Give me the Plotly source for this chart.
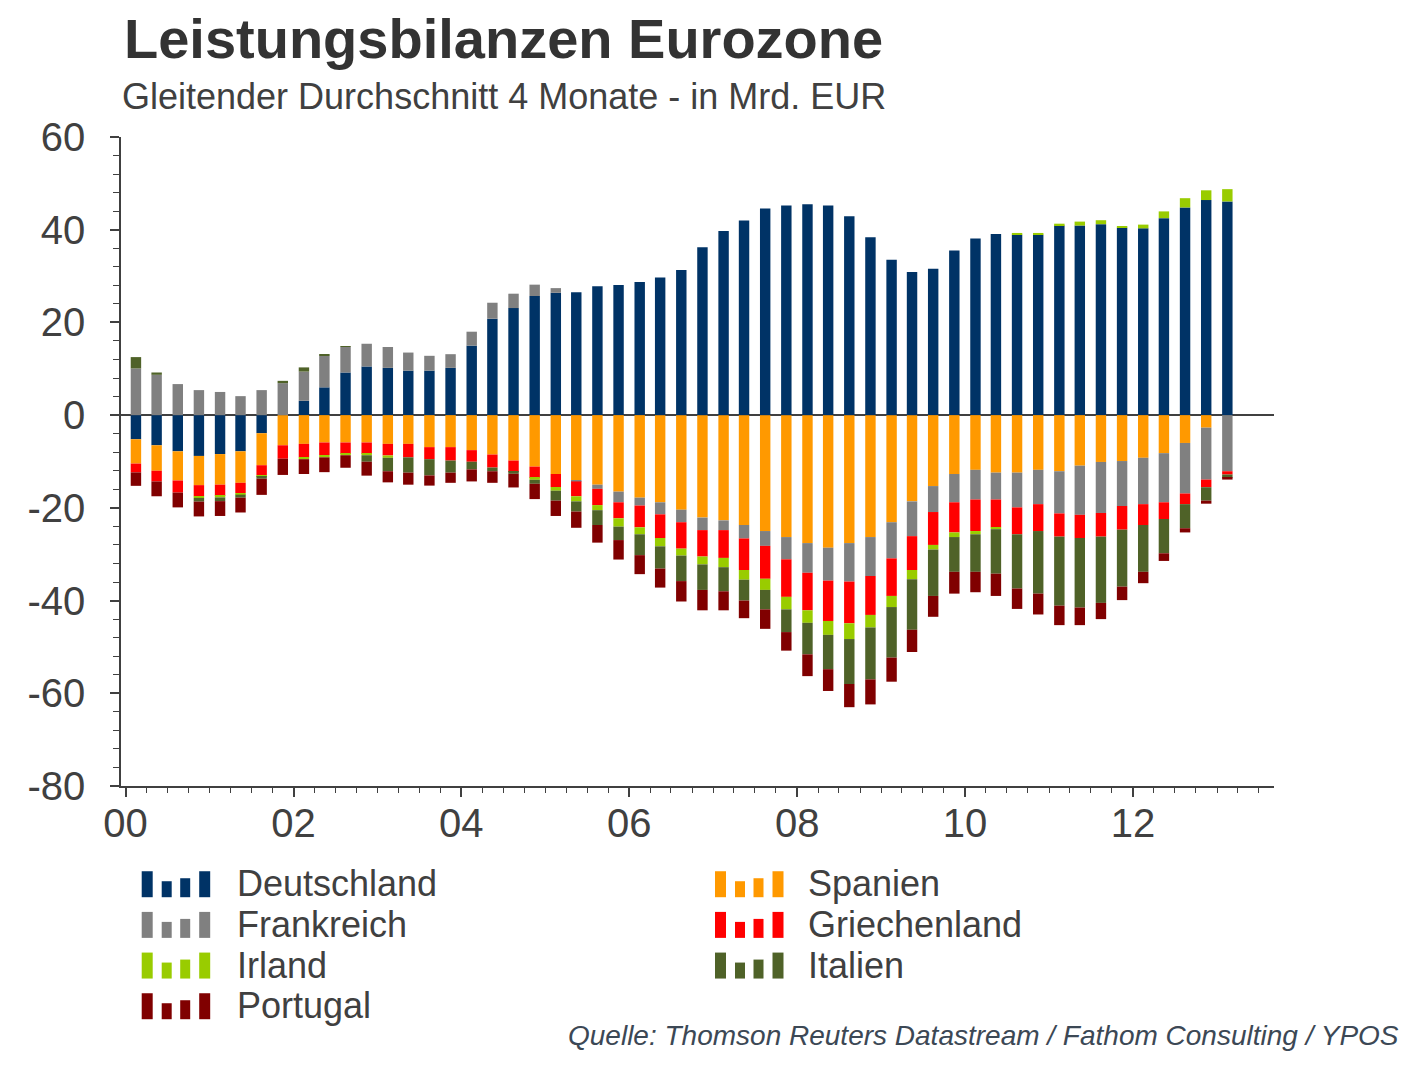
import plotly.graph_objects as go

# ---------------- data (Mrd. EUR, quarterly, 2000Q1 .. 2013Q1) ----------------
years = list(range(2000, 2014))
quarter_mid_months = [2, 5, 8, 11]
periods = [f"{y}-{m:02d}-15" for y in years for m in quarter_mid_months][:53]

deutschland = [-5.2, -6.5, -7.8, -8.8, -8.4, -7.8, -3.9, 0.0, 3.1, 6.0,
               9.2, 10.5, 10.2, 9.6, 9.6, 10.2, 15.0, 20.8, 23.1, 25.7,
               26.4, 26.5, 27.8, 28.1, 28.7, 29.7, 31.3, 36.2, 39.7, 42.0,
               44.6, 45.2, 45.5, 45.2, 42.9, 38.4, 33.5, 30.9, 31.6, 35.5,
               38.1, 39.1, 38.9, 38.9, 40.9, 40.9, 41.2, 40.4, 40.3, 42.5,
               44.8, 46.4, 46.1]
spanien = [-5.25, -5.5, -6.3, -6.3, -6.6, -6.8, -6.9, -6.5, -6.2, -5.9,
           -5.9, -5.9, -6.2, -6.2, -6.9, -6.9, -7.55, -8.5, -9.8, -11.1,
           -12.7, -14.0, -15.0, -16.5, -17.8, -18.8, -20.4, -22.1, -22.7, -23.7,
           -25.0, -26.3, -27.6, -28.6, -27.6, -26.3, -23.1, -18.6, -15.3, -12.7,
           -11.8, -12.4, -12.4, -11.8, -12.1, -10.9, -10.1, -9.9, -9.2, -8.2,
           -6.0, -2.7, 0.0]
frankreich = [10.07, 8.7, 6.7, 5.4, 5.0, 4.1, 5.4, 6.9, 6.3, 6.8,
              5.5, 4.9, 4.5, 3.9, 3.2, 2.95, 3.0, 3.45, 3.1, 2.45,
              1.0, -0.3, -0.9, -2.3, -1.7, -2.6, -2.7, -2.7, -2.1, -2.9,
              -3.2, -4.8, -6.4, -7.1, -8.3, -8.4, -7.8, -7.5, -5.6, -6.1,
              -6.4, -5.8, -7.5, -7.4, -9.1, -10.6, -11.0, -9.7, -10.0, -10.6,
              -10.9, -11.2, -12.1]
griechenland = [-1.9, -2.3, -2.6, -2.4, -2.4, -2.2, -2.2, -2.9, -2.9, -2.7,
                -2.45, -2.45, -2.5, -2.9, -2.6, -2.9, -2.5, -2.8, -2.45, -2.45,
                -2.8, -3.2, -3.5, -3.45, -4.7, -5.1, -5.7, -5.7, -6.0, -6.8,
                -7.1, -8.1, -8.1, -8.7, -9.0, -8.4, -8.1, -7.3, -7.1, -6.5,
                -6.8, -6.0, -5.8, -5.8, -5.0, -5.0, -5.1, -5.1, -4.5, -3.6,
                -2.3, -1.65, -0.7]
irland = [0.0, 0.0, 0.0, -0.35, -0.35, -0.35, -0.3, 0.0, -0.4, -0.5,
          -0.3, -0.3, -0.5, 0.0, 0.0, 0.0, 0.0, 0.0, 0.0, -0.4,
          -0.8, -1.1, -1.1, -1.8, -1.5, -1.8, -1.5, -1.7, -2.0, -2.1,
          -2.4, -2.7, -2.7, -3.0, -3.4, -2.7, -2.4, -2.0, -1.0, -1.0,
          -0.7, -0.4, 0.4, 0.4, 0.4, 0.85, 0.85, 0.35, 0.8, 1.45,
          2.0, 2.1, 2.65]
italien = [2.45, 0.5, 0.0, -0.8, -0.8, -0.65, -0.4, 0.5, 0.9, 0.2,
           0.2, -1.4, -2.9, -3.3, -3.5, -2.6, -1.65, -0.8, -0.4, -0.86,
           -2.15, -2.2, -3.2, -2.9, -4.5, -4.8, -5.5, -5.5, -5.2, -4.5,
           -4.2, -4.9, -6.8, -7.4, -9.7, -11.2, -10.9, -10.9, -10.0, -7.5,
           -8.1, -9.6, -11.7, -13.5, -14.9, -15.0, -14.3, -12.3, -10.1, -7.4,
           -5.2, -2.9, -0.7]
portugal = [-2.9, -3.2, -3.2, -3.2, -3.2, -3.2, -3.5, -3.5, -3.2, -3.2,
            -2.7, -3.0, -2.4, -2.6, -2.2, -2.2, -2.6, -2.5, -2.95, -3.3,
            -3.3, -3.5, -3.8, -4.2, -4.1, -4.1, -4.4, -4.4, -4.1, -3.8,
            -4.2, -4.0, -4.7, -4.7, -5.0, -5.4, -5.2, -4.8, -4.5, -4.7,
            -4.4, -4.8, -4.4, -4.5, -4.2, -3.8, -3.5, -2.9, -2.45, -1.65,
            -0.9, -0.65, -0.4]

series_names = ["Deutschland", "Spanien", "Frankreich", "Griechenland",
                "Irland", "Italien", "Portugal"]
series_values = [deutschland, spanien, frankreich, griechenland,
                 irland, italien, portugal]
series_colors = ["#003366", "#FF9900", "#808080", "#FF0000",
                 "#99CC00", "#4F6228", "#800000"]

y_tick_values = [-80, -60, -40, -20, 0, 20, 40, 60]
y_tick_labels = ["-80", "-60", "-40", "-20", "0", "20", "40", "60"]

title_text = "Leistungsbilanzen Eurozone"
subtitle_text = "Gleitender Durchschnitt 4 Monate - in Mrd. EUR"
source_text = "Quelle: Thomson Reuters Datastream / Fathom Consulting / YPOS"

# ---------------- geometry (page has an 8px body margin) ----------------
OFF = 8
W, H = 1412 - 2 * OFF, 1065 - 2 * OFF
L, R = 121 - OFF, 1274 - OFF
T, B = 136.5 - OFF, 786 - OFF
PW, PH = R - L, B - T


def px(xs):
    """screen x (px) -> paper fraction"""
    return (xs - OFF - L) / PW


def py(ys):
    """screen y (px) -> paper fraction"""
    return (B - (ys - OFF)) / PH


FONT = "Liberation Sans, Arial, sans-serif"
AXIS_COL = "#404040"

# ---------------- figure ----------------
fig = go.Figure()
for name, vals, col in zip(series_names, series_values, series_colors):
    fig.add_trace(go.Bar(x=periods, y=vals, name=name, showlegend=False,
                         marker=dict(color=col, line=dict(width=0))))

# custom legend: two columns, row-wise in series order, with small bar icons
annotations = []
shapes = []
icon_bars = [(0, 11, 26), (20, 30, 16), (38.5, 48.5, 19), (57.5, 68.5, 26)]
for i, (name, col) in enumerate(zip(series_names, series_colors)):
    c, r = i % 2, i // 2
    icon_x = 141.7 + c * 573.3
    base_y = 897.3 + r * 40.7
    for x0, x1, h in icon_bars:
        shapes.append(dict(type="rect", xref="paper", yref="paper",
                           x0=px(icon_x + x0), x1=px(icon_x + x1),
                           y0=py(base_y), y1=py(base_y - h),
                           fillcolor=col, line=dict(width=0), layer="above"))
    annotations.append(dict(text=name, xref="paper", yref="paper",
                            x=px(235 + c * 571), y=py(884 + r * 40.7),
                            xanchor="left", yanchor="middle", showarrow=False,
                            font=dict(size=36, color=AXIS_COL, family=FONT)))

annotations += [
    dict(text=f"<b>{title_text}</b>", xref="paper", yref="paper",
         x=px(122), y=py(38), xanchor="left", yanchor="middle", showarrow=False,
         font=dict(size=56, color="#333333", family=FONT)),
    dict(text=subtitle_text, xref="paper", yref="paper",
         x=px(120), y=py(96), xanchor="left", yanchor="middle", showarrow=False,
         font=dict(size=36, color=AXIS_COL, family=FONT)),
    dict(text=f"<i>{source_text}</i>", xref="paper", yref="paper",
         x=px(1401), y=py(1036), xanchor="right", yanchor="middle", showarrow=False,
         font=dict(size=28, color="#3C4855", family=FONT)),
]

fig.update_layout(
    width=W, height=H, autosize=False,
    margin=dict(l=L, r=W - R, t=T, b=H - B, pad=0, autoexpand=False),
    paper_bgcolor="white", plot_bgcolor="white",
    barmode="relative", bargap=0.49,
    font=dict(family=FONT, color=AXIS_COL),
    showlegend=False,
    annotations=annotations,
    shapes=shapes,
)

fig.update_yaxes(
    range=[-80, 60], tickvals=y_tick_values, ticktext=y_tick_labels,
    showgrid=False,
    showline=True, linecolor=AXIS_COL, linewidth=1.5,
    ticks="outside", ticklen=9, tickwidth=1.5, tickcolor=AXIS_COL,
    ticklabelstandoff=17,
    tickfont=dict(size=40, color=AXIS_COL, family=FONT),
    zeroline=True, zerolinecolor=AXIS_COL, zerolinewidth=1.5,
    minor=dict(dtick=4, tick0=0, ticks="outside", ticklen=6, tickwidth=1,
               tickcolor=AXIS_COL),
)
fig.update_xaxes(
    type="date", range=["1999-12-12", "2013-09-06"],
    tick0="2000-01-01", dtick="M24", tickformat="%y",
    showgrid=False, showline=True, linecolor=AXIS_COL, linewidth=1.5,
    ticks="outside", ticklen=9, tickwidth=1.5, tickcolor=AXIS_COL,
    ticklabelstandoff=-8,
    tickfont=dict(size=40, color=AXIS_COL, family=FONT),
    minor=dict(dtick="M3", ticks="outside", ticklen=5, tickwidth=1,
               tickcolor=AXIS_COL),
)

fig.write_html("out.html")
